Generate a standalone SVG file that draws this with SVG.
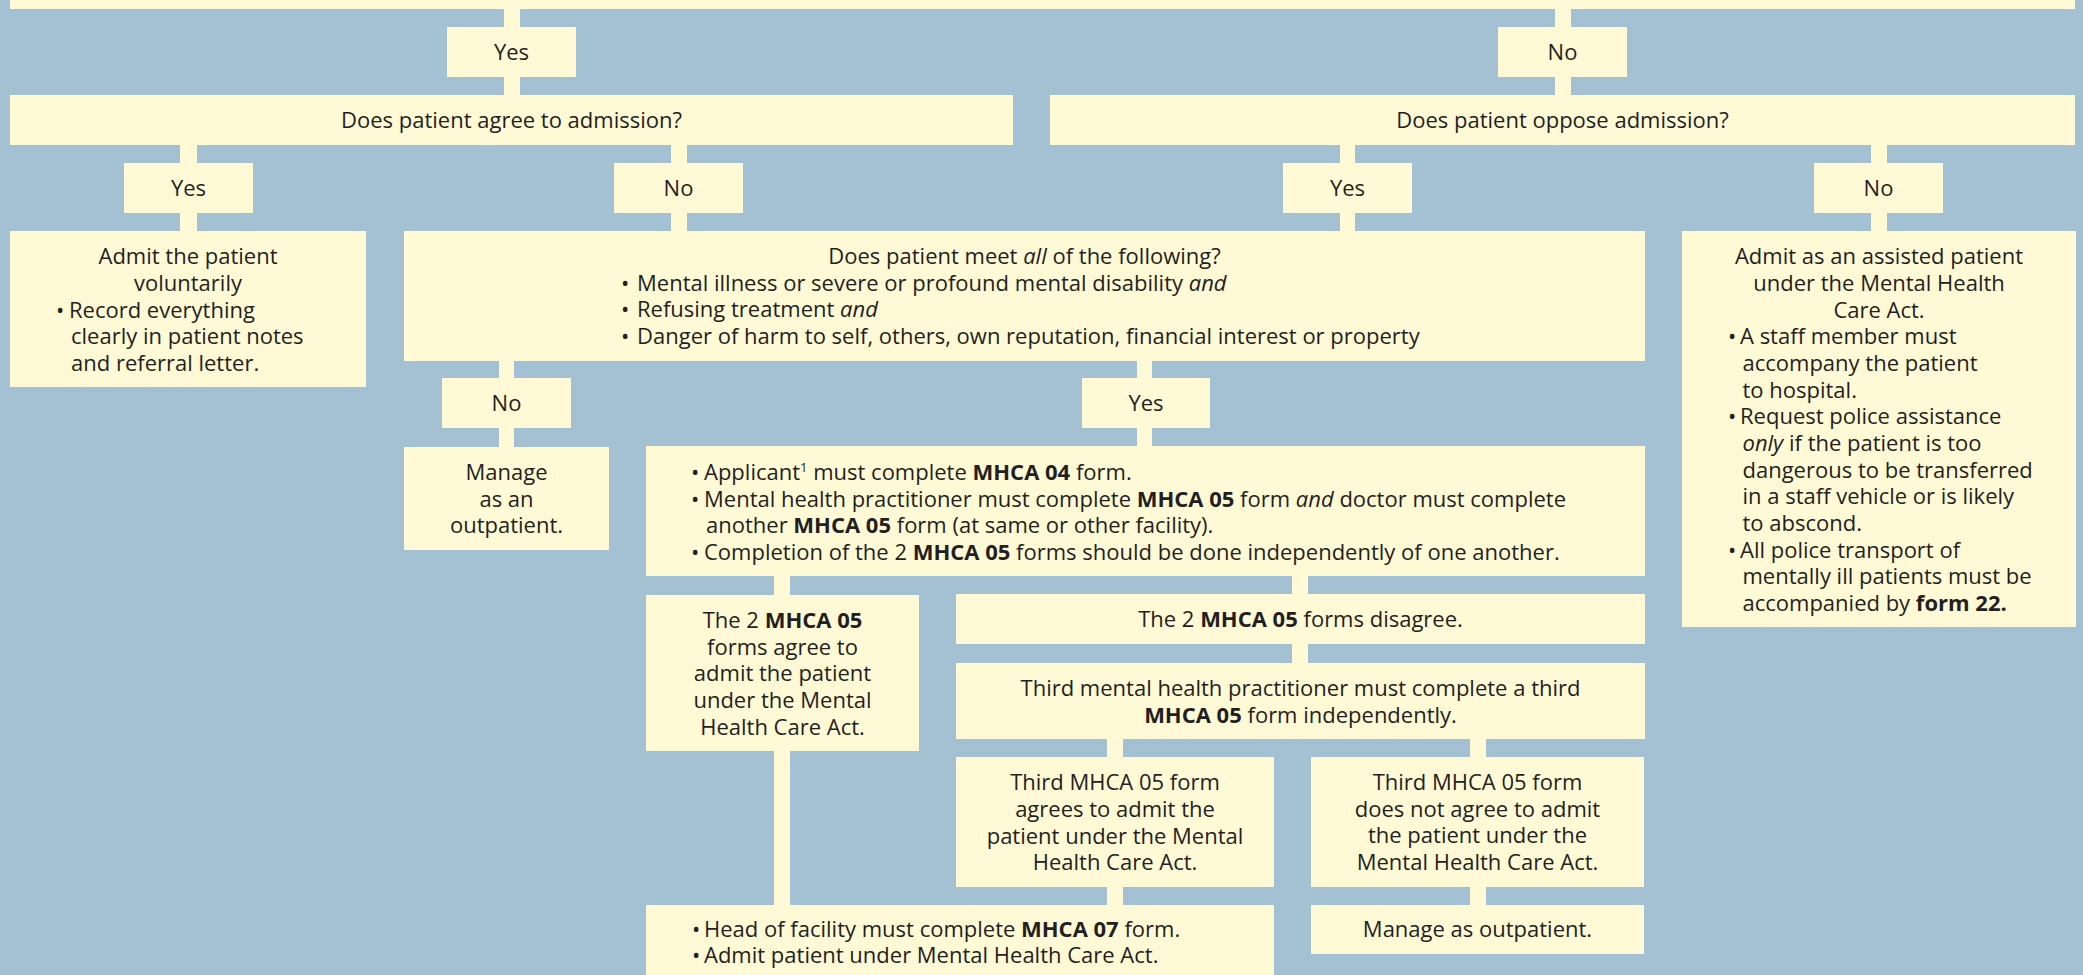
<svg xmlns="http://www.w3.org/2000/svg" width="2083" height="975" viewBox="0 0 2083 975">
<style>
.box{fill:#FFFAD5}
.con{fill:#FFFAD5}
text{font-family:"Open Sans","Noto Sans",sans-serif;font-size:22px;fill:#231F20}
.m{text-anchor:middle}
.b{font-weight:bold}
.i{font-style:italic}
</style>
<rect x="0" y="0" width="2083" height="975" fill="#A3C1D3"/>
<g id="connectors">
<rect class="con" x="504" y="9" width="16" height="86"/>
<rect class="con" x="1555" y="9" width="16" height="86"/>
<rect class="con" x="180" y="145" width="17" height="86"/>
<rect class="con" x="671" y="145" width="16" height="86"/>
<rect class="con" x="1340" y="145" width="15" height="86"/>
<rect class="con" x="1871" y="145" width="16" height="86"/>
<rect class="con" x="499" y="361" width="15" height="86"/>
<rect class="con" x="1137" y="361" width="15" height="85"/>
<rect class="con" x="774" y="576" width="16" height="329"/>
<rect class="con" x="1292" y="576" width="16" height="87"/>
<rect class="con" x="1107" y="739" width="16" height="166"/>
<rect class="con" x="1470" y="739" width="16" height="166"/>
</g>
<g id="top">
<rect class="box" x="10" y="-10" width="2065" height="19"/>
</g>
<g id="yes1">
<rect class="box" x="447" y="27" width="129" height="50"/>
<text class="m" x="511.5" y="60">Yes</text>
</g>
<g id="no1">
<rect class="box" x="1498" y="27" width="129" height="50"/>
<text class="m" x="1562.5" y="60">No</text>
</g>
<g id="agree">
<rect class="box" x="10" y="95" width="1003" height="50"/>
<text class="m" x="511.5" y="128">Does patient agree to admission?</text>
</g>
<g id="oppose">
<rect class="box" x="1050" y="95" width="1025" height="50"/>
<text class="m" x="1562.5" y="128">Does patient oppose admission?</text>
</g>
<g id="yes2">
<rect class="box" x="124" y="163" width="129" height="50"/>
<text class="m" x="188.5" y="196">Yes</text>
</g>
<g id="no2">
<rect class="box" x="614" y="163" width="129" height="50"/>
<text class="m" x="678.5" y="196">No</text>
</g>
<g id="yes3">
<rect class="box" x="1283" y="163" width="129" height="50"/>
<text class="m" x="1347.5" y="196">Yes</text>
</g>
<g id="no3">
<rect class="box" x="1814" y="163" width="129" height="50"/>
<text class="m" x="1878.5" y="196">No</text>
</g>
<g id="voluntary">
<rect class="box" x="10" y="231" width="356" height="156"/>
<text class="m" x="188" y="264">Admit the patient</text>
<text class="m" x="188" y="291">voluntarily</text>
<text><tspan x="56" y="317.5">•</tspan><tspan x="69" y="317.5">Record everything</tspan></text>
<text x="71" y="344">clearly in patient notes</text>
<text x="71" y="371">and referral letter.</text>
</g>
<g id="criteria">
<rect class="box" x="404" y="231" width="1241" height="130"/>
<text class="m" x="1024.5" y="264">Does patient meet <tspan class="i">all</tspan> of the following?</text>
<text><tspan x="621" y="290.7">•</tspan><tspan x="637" y="290.7">Mental illness or severe or profound mental disability <tspan class="i">and</tspan></tspan></text>
<text><tspan x="621" y="317">•</tspan><tspan x="637" y="317">Refusing treatment <tspan class="i">and</tspan></tspan></text>
<text><tspan x="621" y="343.5">•</tspan><tspan x="637" y="343.5">Danger of harm to self, others, own reputation, financial interest or property</tspan></text>
</g>
<g id="no4">
<rect class="box" x="442" y="378" width="129" height="50"/>
<text class="m" x="506.5" y="411">No</text>
</g>
<g id="yes4">
<rect class="box" x="1082" y="378" width="128" height="50"/>
<text class="m" x="1146" y="411">Yes</text>
</g>
<g id="manage1">
<rect class="box" x="404" y="447" width="205" height="103"/>
<text class="m" x="506.5" y="480">Manage</text>
<text class="m" x="506.5" y="506.7">as an</text>
<text class="m" x="506.5" y="533">outpatient.</text>
</g>
<g id="applicant">
<rect class="box" x="646" y="446" width="999" height="130"/>
<text><tspan x="691" y="480">•</tspan><tspan x="704" y="480">Applicant</tspan><tspan font-size="13" dy="-8">1</tspan><tspan dy="8"> must complete </tspan><tspan class="b">MHCA 04</tspan> form.</text>
<text><tspan x="691" y="506.7">•</tspan><tspan x="704" y="506.7">Mental health practitioner must complete <tspan class="b">MHCA 05</tspan> form <tspan class="i">and</tspan> doctor must complete</tspan></text>
<text x="706" y="533">another <tspan class="b">MHCA 05</tspan> form (at same or other facility).</text>
<text><tspan x="691" y="560">•</tspan><tspan x="704" y="560">Completion of the 2 <tspan class="b">MHCA 05</tspan> forms should be done independently of one another.</tspan></text>
</g>
<g id="agree2">
<rect class="box" x="646" y="595" width="273" height="156"/>
<text class="m" x="782.5" y="627.5">The 2 <tspan class="b">MHCA 05</tspan></text>
<text class="m" x="782.5" y="654.5">forms agree to</text>
<text class="m" x="782.5" y="681">admit the patient</text>
<text class="m" x="782.5" y="708">under the Mental</text>
<text class="m" x="782.5" y="735">Health Care Act.</text>
</g>
<g id="disagree">
<rect class="box" x="956" y="594" width="689" height="50"/>
<text class="m" x="1300.5" y="627">The 2 <tspan class="b">MHCA 05</tspan> forms disagree.</text>
</g>
<g id="third">
<rect class="box" x="956" y="663" width="689" height="76"/>
<text class="m" x="1300.5" y="696">Third mental health practitioner must complete a third</text>
<text class="m" x="1300.5" y="722.7"><tspan class="b">MHCA 05</tspan> form independently.</text>
</g>
<g id="third-agrees">
<rect class="box" x="956" y="757" width="318" height="130"/>
<text class="m" x="1115" y="790">Third MHCA 05 form</text>
<text class="m" x="1115" y="817">agrees to admit the</text>
<text class="m" x="1115" y="843.7">patient under the Mental</text>
<text class="m" x="1115" y="870">Health Care Act.</text>
</g>
<g id="third-disagrees">
<rect class="box" x="1311" y="757" width="333" height="130"/>
<text class="m" x="1477.5" y="789.5">Third MHCA 05 form</text>
<text class="m" x="1477.5" y="816.5">does not agree to admit</text>
<text class="m" x="1477.5" y="843.3">the patient under the</text>
<text class="m" x="1477.5" y="870">Mental Health Care Act.</text>
</g>
<g id="head">
<rect class="box" x="646" y="905" width="628" height="80"/>
<text><tspan x="692" y="936.7">•</tspan><tspan x="704" y="936.7">Head of facility must complete <tspan class="b">MHCA 07</tspan> form.</tspan></text>
<text><tspan x="692" y="963">•</tspan><tspan x="704" y="963">Admit patient under Mental Health Care Act.</tspan></text>
</g>
<g id="manage2">
<rect class="box" x="1311" y="905" width="333" height="49"/>
<text class="m" x="1477.5" y="937">Manage as outpatient.</text>
</g>
<g id="assisted">
<rect class="box" x="1682" y="231" width="394" height="396"/>
<text class="m" x="1879" y="264.3">Admit as an assisted patient</text>
<text class="m" x="1879" y="291">under the Mental Health</text>
<text class="m" x="1879" y="317.7">Care Act.</text>
<text><tspan x="1728" y="344.3">•</tspan><tspan x="1740" y="344.3">A staff member must</tspan></text>
<text x="1742.5" y="371">accompany the patient</text>
<text x="1742.5" y="398">to hospital.</text>
<text><tspan x="1728" y="424.3">•</tspan><tspan x="1740" y="424.3">Request police assistance</tspan></text>
<text x="1742.5" y="451"><tspan class="i">only</tspan> if the patient is too</text>
<text x="1742.5" y="477.7">dangerous to be transferred</text>
<text x="1742.5" y="504.3">in a staff vehicle or is likely</text>
<text x="1742.5" y="531">to abscond.</text>
<text><tspan x="1728" y="557.7">•</tspan><tspan x="1740" y="557.7">All police transport of</tspan></text>
<text x="1742.5" y="584.3">mentally ill patients must be</text>
<text x="1742.5" y="611">accompanied by <tspan class="b">form 22.</tspan></text>
</g>
</svg>
